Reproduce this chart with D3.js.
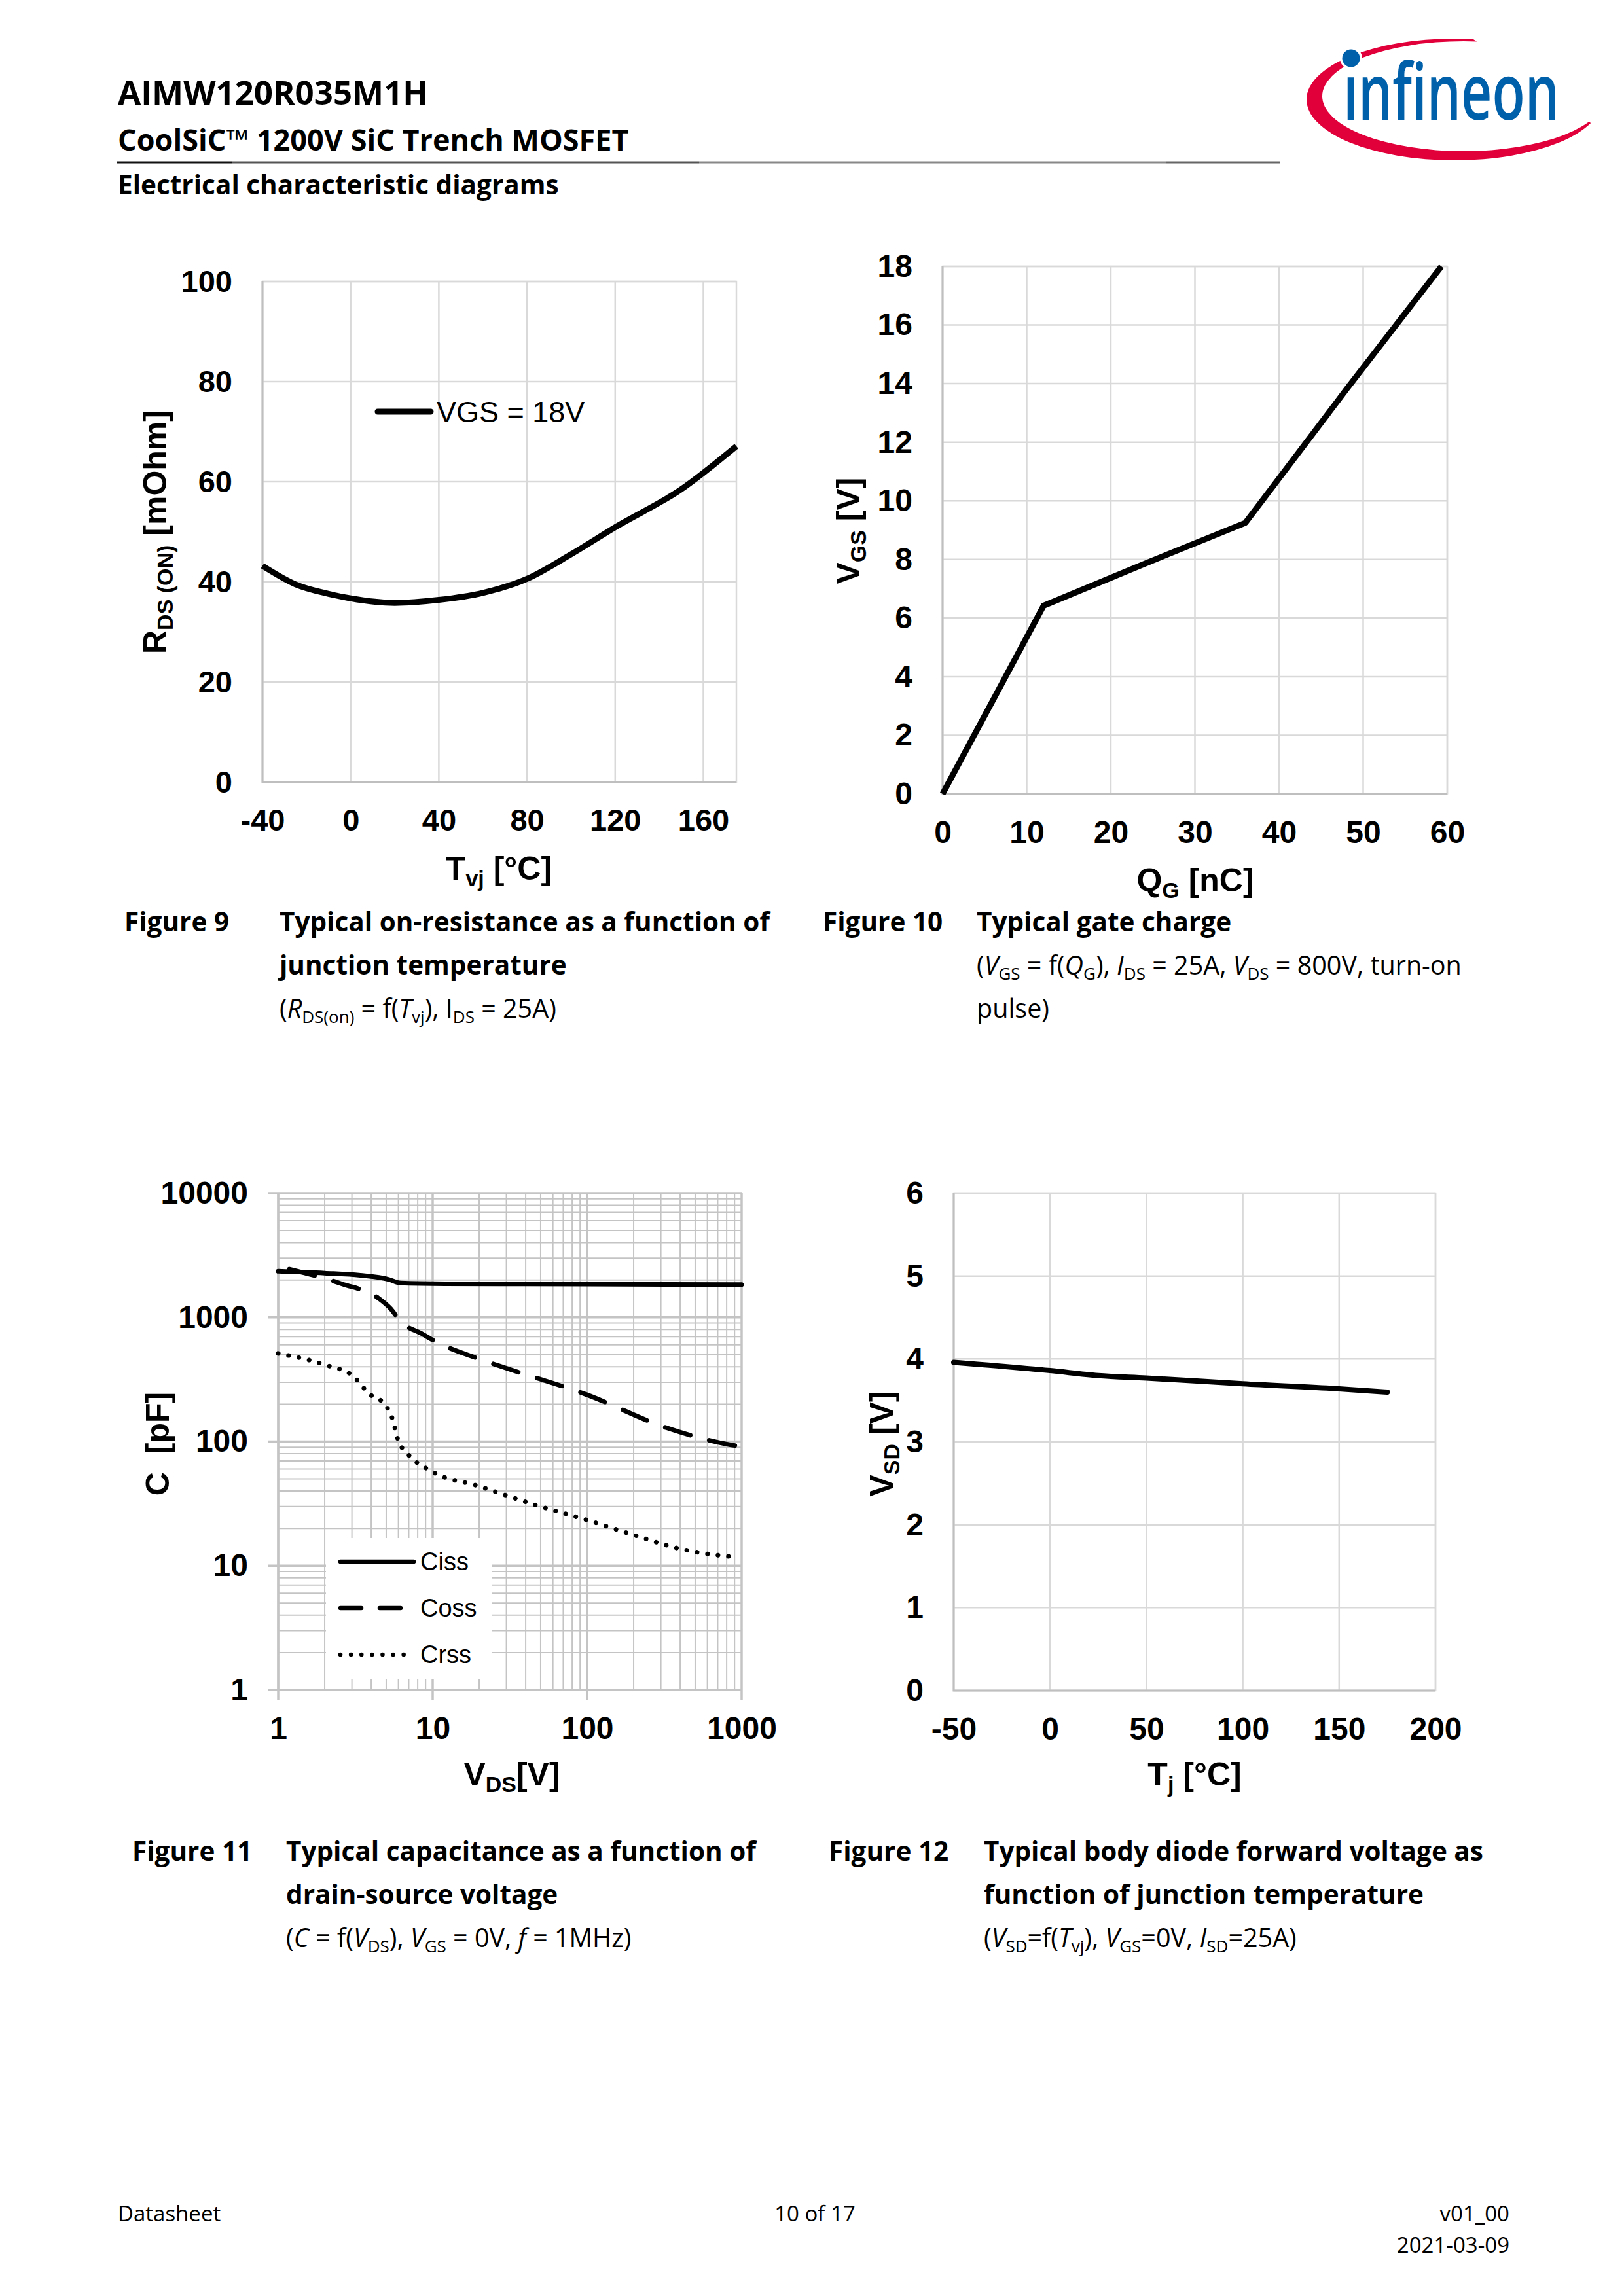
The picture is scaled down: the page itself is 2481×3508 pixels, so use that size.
<!DOCTYPE html>
<html>
<head>
<meta charset="utf-8">
<script src="https://cdn.jsdelivr.net/npm/d3@7"></script>
<style>
  body { margin: 0; background: #fff; }
</style>
</head>
<body>
<svg id="page" width="2481" height="3508"></svg>
<script>
// ---- Figure 9: RDS(on) vs Tvj
const tvj9 = [-40, -25, -10, 0, 20, 40, 60, 80, 100, 120, 150, 175];
const rds9 = [43.2, 39.5, 37.6, 36.7, 35.8, 36.4, 37.8, 40.6, 45.5, 50.9, 58.5, 67.1];
const xTicks9 = [-40, 0, 40, 80, 120, 160];
const yTicks9 = [0, 20, 40, 60, 80, 100];

// ---- Figure 10: gate charge
const qg10 = [0, 6, 12, 24, 36, 48, 59.3];
const vgs10 = [0, 3.2, 6.42, 7.85, 9.25, 13.8, 18];
const xTicks10 = [0, 10, 20, 30, 40, 50, 60];
const yTicks10 = [0, 2, 4, 6, 8, 10, 12, 14, 16, 18];

// ---- Figure 11: capacitances vs VDS
const vdsCiss = [1, 2, 3.4, 5.2, 6.2, 12, 100, 1000];
const ciss = [2350, 2270, 2180, 2020, 1890, 1865, 1850, 1835];
const vdsCoss = [1.18, 2.57, 4.47, 5.35, 6.18, 8.55, 10, 19.9, 31.4, 98, 327, 812, 1000];
const coss = [2445, 1863, 1422, 1172, 929, 736, 656, 463, 382, 240, 129, 95, 91];
const vdsCrss = [1, 2.05, 3.02, 3.92, 4.92, 5.5, 5.98, 6.81, 10, 19.9, 46.4, 98, 194, 398, 812, 957];
const crss = [512, 412, 340, 240, 198, 151, 102, 81, 57, 43.7, 30.8, 23.5, 17.9, 13.7, 11.9, 11.7];
const xTicks11 = [1, 10, 100, 1000];
const yTicks11 = [1, 10, 100, 1000, 10000];
const legend11 = ["Ciss", "Coss", "Crss"];

// ---- Figure 12: body diode forward voltage
const tj12 = [-50, 0, 25, 50, 100, 150, 175];
const vsd12 = [3.96, 3.86, 3.80, 3.77, 3.70, 3.64, 3.60];
const xTicks12 = [-50, 0, 50, 100, 150, 200];
const yTicks12 = [0, 1, 2, 3, 4, 5, 6];

const CF = "'Liberation Sans', Arial, sans-serif";
const PF = "'Open Sans', 'Noto Sans', sans-serif";

const svg = d3.select("#page");
svg.append("rect").attr("width", 2481).attr("height", 3508).attr("fill", "#fff");

// text with sub-scripted / italic pieces
function rich(parent, x, y, parts, o) {
    const size = o.size;
    const subSize = Math.round(size * (o.subScale || 0.66));
    const shift = o.shift || Math.round(size * 0.2);
    const t = parent.append("text")
        .attr("x", x).attr("y", y)
        .attr("font-family", o.family)
        .attr("font-size", size)
        .attr("font-weight", o.weight || 400)
        .attr("text-anchor", o.anchor || "start")
        .attr("fill", "#000")
        .style("white-space", "pre");
    if (o.rotate) t.attr("transform", `rotate(-90 ${x} ${y})`);
    let cur = 0;
    parts.forEach(p => {
        const s = typeof p === "string" ? { t: p } : p;
        const want = s.sub ? shift : 0;
        const ts = t.append("tspan").text(s.t).attr("dy", want - cur);
        cur = want;
        if (s.sub) ts.attr("font-size", subSize);
        if (s.it) ts.attr("font-style", "italic");
    });
    return t;
}

// grid, frame and tick labels of one diagram
function panel(o) {
    const w = o.right - o.left, h = o.bottom - o.top;
    o.x.range([0, w]);
    o.y.range([h, 0]);
    const g = svg.append("g").attr("transform", `translate(${o.left},${o.top})`);
    const grid = g.append("g").attr("stroke", o.gridColor).attr("stroke-width", o.gridWidth);
    grid.selectAll("line.gx").data(o.xGrid).join("line").attr("class", "gx")
        .attr("x1", d => o.x(d)).attr("x2", d => o.x(d)).attr("y1", 0).attr("y2", h);
    grid.selectAll("line.gy").data(o.yGrid).join("line").attr("class", "gy")
        .attr("y1", d => o.y(d)).attr("y2", d => o.y(d)).attr("x1", 0).attr("x2", w);
    if (o.majorWidth) {
        grid.selectAll("line.mx").data(o.xTicks).join("line").attr("class", "mx")
            .attr("stroke-width", o.majorWidth)
            .attr("x1", d => o.x(d)).attr("x2", d => o.x(d)).attr("y1", 0).attr("y2", h + o.outTick);
        grid.selectAll("line.my").data(o.yTicks).join("line").attr("class", "my")
            .attr("stroke-width", o.majorWidth)
            .attr("y1", d => o.y(d)).attr("y2", d => o.y(d)).attr("x1", -o.outTick).attr("x2", w);
    }
    g.append("rect").attr("width", w).attr("height", h)
        .attr("fill", "none").attr("stroke", o.gridColor).attr("stroke-width", o.gridWidth);
    g.append("path").attr("d", `M0,0V${h}H${w}`)
        .attr("fill", "none").attr("stroke", o.axisColor).attr("stroke-width", 3);

    const xa = d3.axisBottom(o.x).tickValues(o.xTicks).tickSize(0).tickPadding(41).tickFormat(d => String(d));
    const ya = d3.axisLeft(o.y).tickValues(o.yTicks).tickSize(0).tickPadding(46).tickFormat(d => String(d));
    const ax = g.append("g").attr("transform", `translate(0,${h})`).call(xa);
    const ay = g.append("g").call(ya);
    [ax, ay].forEach(a => {
        a.select(".domain").remove();
        a.attr("font-family", CF).attr("font-size", o.tickSize || 48).attr("font-weight", "bold");
        a.selectAll("text").attr("fill", "#000");
    });
    g.append("clipPath").attr("id", o.id + "clip")
        .append("rect").attr("x", -6).attr("y", -6).attr("width", w + 12).attr("height", h + 12);
    const plot = g.append("g").attr("clip-path", `url(#${o.id}clip)`);
    return { g, plot, w, h };
}

const axisFont = { family: CF, size: 50, weight: "bold", subScale: 0.68, shift: 10 };

// ================= Figure 9 =================
{
    const x = d3.scaleLinear().domain([-40, 175]);
    const y = d3.scaleLinear().domain([0, 100]);
    const p = panel({ id: "f9", left: 401, right: 1125, top: 430, bottom: 1195, x, y,
        xGrid: xTicks9, yGrid: yTicks9, xTicks: xTicks9, yTicks: yTicks9,
        gridColor: "#d9d9d9", gridWidth: 2.5, axisColor: "#bfbfbf", tickSize: 47 });
    p.plot.append("path")
        .datum(tvj9.map((t, i) => [t, rds9[i]]))
        .attr("fill", "none").attr("stroke", "#000").attr("stroke-width", 9)
        .attr("stroke-linejoin", "round")
        .attr("d", d3.line().x(d => x(d[0])).y(d => y(d[1])).curve(d3.curveMonotoneX));
    p.g.append("line").attr("x1", 176).attr("x2", 257).attr("y1", 199).attr("y2", 199)
        .attr("stroke", "#000").attr("stroke-width", 9).attr("stroke-linecap", "round");
    p.g.append("text").attr("x", 266).attr("y", 215).text("VGS = 18V")
        .attr("font-family", CF).attr("font-size", 45).attr("fill", "#000");
    rich(svg, 254, 813, ["R", { t: "DS (ON)", sub: true }, " [mOhm]"],
        Object.assign({ anchor: "middle", rotate: true }, axisFont));
    rich(svg, 762, 1344, ["T", { t: "vj", sub: true }, " [°C]"],
        Object.assign({ anchor: "middle" }, axisFont));
}

// ================= Figure 10 =================
{
    const x = d3.scaleLinear().domain([0, 60]);
    const y = d3.scaleLinear().domain([0, 18]);
    const p = panel({ id: "f10", left: 1440, right: 2211, top: 407, bottom: 1213, x, y,
        xGrid: xTicks10, yGrid: yTicks10, xTicks: xTicks10, yTicks: yTicks10,
        gridColor: "#d9d9d9", gridWidth: 2.5, axisColor: "#bfbfbf" });
    p.plot.append("path")
        .datum(qg10.map((q, i) => [q, vgs10[i]]))
        .attr("fill", "none").attr("stroke", "#000").attr("stroke-width", 9)
        .attr("stroke-linejoin", "round")
        .attr("d", d3.line().x(d => x(d[0])).y(d => y(d[1])));
    rich(svg, 1313, 811, ["V", { t: "GS", sub: true }, " [V]"],
        Object.assign({ anchor: "middle", rotate: true }, axisFont));
    rich(svg, 1826, 1362, ["Q", { t: "G", sub: true }, " [nC]"],
        Object.assign({ anchor: "middle" }, axisFont));
}

// ================= Figure 11 =================
{
    const x = d3.scaleLog().domain([1, 1000]);
    const y = d3.scaleLog().domain([1, 10000]);
    const minor = (lo, hi) => {
        const out = [];
        for (let d = lo; d < hi; d *= 10) for (let k = 2; k <= 9; k++) out.push(k * d);
        return out;
    };
    const p = panel({ id: "f11", left: 425, right: 1133, top: 1823, bottom: 2582, x, y,
        xGrid: minor(1, 1000), yGrid: minor(1, 10000), xTicks: xTicks11, yTicks: yTicks11,
        gridColor: "#c4c4c4", gridWidth: 2, majorWidth: 3.5, outTick: 15, axisColor: "#c4c4c4" });
    const line = d3.line().x(d => x(d[0])).y(d => y(d[1])).curve(d3.curveMonotoneX);
    const series = [
        { v: vdsCiss, c: ciss, dash: null },
        { v: vdsCoss, c: coss, dash: "40,30" },
        { v: vdsCrss, c: crss, dash: "0.1,16" }
    ];
    series.forEach(s => {
        p.plot.append("path")
            .datum(s.v.map((v, i) => [v, s.c[i]]))
            .attr("fill", "none").attr("stroke", "#000").attr("stroke-width", 7)
            .attr("stroke-linecap", "round").attr("stroke-linejoin", "round")
            .attr("stroke-dasharray", s.dash)
            .attr("d", line);
    });
    // legend
    const lg = p.g.append("g").attr("transform", "translate(73,527)");
    lg.append("rect").attr("width", 254).attr("height", 215).attr("fill", "#fff");
    legend11.forEach((name, i) => {
        const yy = 36 + i * 71;
        lg.append("line").attr("x1", 22).attr("x2", 134).attr("y1", yy).attr("y2", yy)
            .attr("stroke", "#000").attr("stroke-width", 6.5).attr("stroke-linecap", "round")
            .attr("stroke-dasharray", i === 1 ? "32,28" : series[i].dash);
        lg.append("text").attr("x", 144).attr("y", yy + 13).text(name)
            .attr("font-family", CF).attr("font-size", 38).attr("fill", "#000");
    });
    rich(svg, 258, 2206, ["C  [pF]"], Object.assign({ anchor: "middle", rotate: true }, axisFont));
    rich(svg, 782, 2728, ["V", { t: "DS", sub: true }, "[V]"],
        Object.assign({ anchor: "middle" }, axisFont));
}

// ================= Figure 12 =================
{
    const x = d3.scaleLinear().domain([-50, 200]);
    const y = d3.scaleLinear().domain([0, 6]);
    const p = panel({ id: "f12", left: 1457, right: 2193, top: 1823, bottom: 2583, x, y,
        xGrid: xTicks12, yGrid: yTicks12, xTicks: xTicks12, yTicks: yTicks12,
        gridColor: "#d9d9d9", gridWidth: 2.5, axisColor: "#bfbfbf" });
    p.plot.append("path")
        .datum(tj12.map((t, i) => [t, vsd12[i]]))
        .attr("fill", "none").attr("stroke", "#000").attr("stroke-width", 8)
        .attr("stroke-linecap", "round").attr("stroke-linejoin", "round")
        .attr("d", d3.line().x(d => x(d[0])).y(d => y(d[1])).curve(d3.curveMonotoneX));
    rich(svg, 1364, 2206, ["V", { t: "SD", sub: true }, " [V]"],
        Object.assign({ anchor: "middle", rotate: true }, axisFont));
    rich(svg, 1825, 2728, ["T", { t: "j", sub: true }, " [°C]"],
        Object.assign({ anchor: "middle" }, axisFont));
}

// ================= page header =================
svg.append("text").attr("x", 180).attr("y", 160).text("AIMW120R035M1H")
    .attr("font-family", PF).attr("font-weight", 700).attr("font-size", 51);
svg.append("text").attr("x", 180).attr("y", 230).text("CoolSiC™ 1200V SiC Trench MOSFET")
    .attr("font-family", PF).attr("font-weight", 700).attr("font-size", 45);
const rule = [[178, 355, "#111"], [355, 1068, "#555"], [1068, 1781, "#888"], [1781, 1955, "#666"]];
svg.append("g").selectAll("line").data(rule).join("line")
    .attr("x1", d => d[0]).attr("x2", d => d[1]).attr("y1", 248).attr("y2", 248)
    .attr("stroke", d => d[2]).attr("stroke-width", 3);
svg.append("text").attr("x", 180).attr("y", 297).text("Electrical characteristic diagrams")
    .attr("font-family", PF).attr("font-weight", 700).attr("font-size", 40.5);

// logo
{
    const lg = svg.append("g");
    lg.append("clipPath").attr("id", "swoosh")
        .append("polygon").attr("points", "1980,40 2223,40 2440,195 2440,260 1980,260");
    const ell = (cx, cy, rx, ry) =>
        `M${cx - rx},${cy}A${rx},${ry} 0 1,0 ${cx + rx},${cy}A${rx},${ry} 0 1,0 ${cx - rx},${cy}Z`;
    lg.append("path").attr("d", ell(2222, 152, 226, 93) + ell(2236, 147, 216, 84))
        .attr("fill-rule", "evenodd").attr("fill", "#e2003b").attr("clip-path", "url(#swoosh)");
    const word = lg.append("text").attr("x", 0).attr("y", 0).text("\u0131nfineon")
        .attr("font-family", PF).attr("font-weight", 600).attr("font-size", 120).attr("fill", "#0060a9");
    const nat = word.node().getComputedTextLength() || 470;
    word.attr("transform", `translate(2052,183) scale(${(330 / nat).toFixed(4)},1)`);
    lg.append("circle").attr("cx", 2064).attr("cy", 89).attr("r", 17).attr("fill", "#fff");
    lg.append("circle").attr("cx", 2064).attr("cy", 89).attr("r", 13.5).attr("fill", "#0060a9");
}

// ================= captions =================
const capB = { family: PF, size: 40.5, weight: 700 };
const capR = { family: PF, size: 39.5, weight: 400, subScale: 0.66, shift: 8 };
function caption(num, nx, tx, y0, title, params) {
    rich(svg, nx, y0, [num], capB);
    title.forEach((l, i) => rich(svg, tx, y0 + i * 66, [l], capB));
    params.forEach((l, i) => rich(svg, tx, y0 + (title.length + i) * 66, l, capR));
}
caption("Figure 9", 190, 427, 1423,
    ["Typical on-resistance as a function of", "junction temperature"],
    [["(", { t: "R", it: true }, { t: "DS(on)", sub: true }, " = f(", { t: "T", it: true }, { t: "vj", sub: true },
      "), I", { t: "DS", sub: true }, " = 25A)"]]);
caption("Figure 10", 1257, 1492, 1423,
    ["Typical gate charge"],
    [["(", { t: "V", it: true }, { t: "GS", sub: true }, " = f(", { t: "Q", it: true }, { t: "G", sub: true },
      "), ", { t: "I", it: true }, { t: "DS", sub: true }, " = 25A, ", { t: "V", it: true }, { t: "DS", sub: true },
      " = 800V, turn-on"], ["pulse)"]]);
caption("Figure 11", 202, 437, 2843,
    ["Typical capacitance as a function of", "drain-source voltage"],
    [["(", { t: "C", it: true }, " = f(", { t: "V", it: true }, { t: "DS", sub: true }, "), ",
      { t: "V", it: true }, { t: "GS", sub: true }, " = 0V, ", { t: "f", it: true }, " = 1MHz)"]]);
caption("Figure 12", 1266, 1503, 2843,
    ["Typical body diode forward voltage as", "function of junction temperature"],
    [["(", { t: "V", it: true }, { t: "SD", sub: true }, "=f(", { t: "T", it: true }, { t: "vj", sub: true }, "), ",
      { t: "V", it: true }, { t: "GS", sub: true }, "=0V, ", { t: "I", it: true }, { t: "SD", sub: true }, "=25A)"]]);

// ================= footer =================
const foot = [
    ["Datasheet", 180, 3394, "start"],
    ["10 of 17", 1245, 3394, "middle"],
    ["v01_00", 2306, 3394, "end"],
    ["2021-03-09", 2306, 3442, "end"]
];
svg.append("g").selectAll("text").data(foot).join("text")
    .attr("x", d => d[1]).attr("y", d => d[2]).attr("text-anchor", d => d[3]).text(d => d[0])
    .attr("font-family", PF).attr("font-size", 33).attr("fill", "#000");
</script>
</body>
</html>
